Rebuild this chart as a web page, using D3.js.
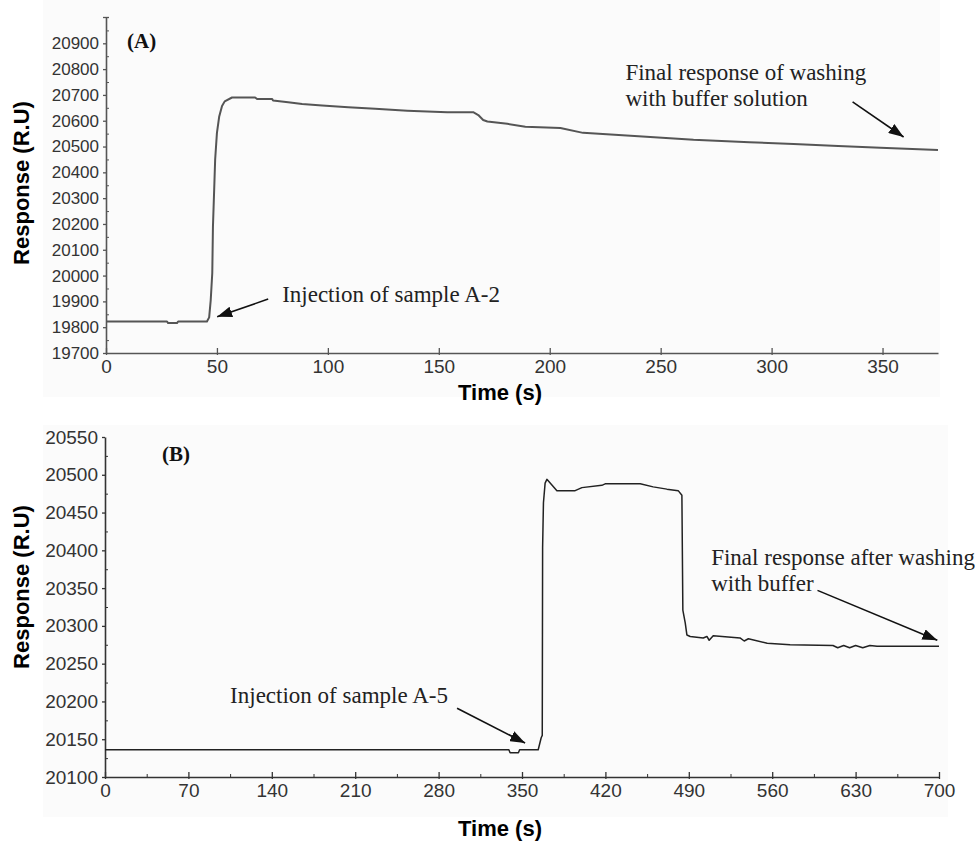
<!DOCTYPE html>
<html>
<head>
<meta charset="utf-8">
<script src="https://cdn.jsdelivr.net/npm/d3@7"></script>
<style>
  body { margin: 0; background: #fff; }
  .tick text { font-family: "Liberation Sans", Arial, sans-serif; }
  .title { font-family: "Liberation Sans", Arial, sans-serif; font-weight: bold; }
  .note { font-family: "Liberation Serif", "Times New Roman", serif; fill: #222; }
</style>
</head>
<body>
<div id="chart"></div>
<script>
// Panel A: injection of sample A-2
const timeA = [0, 27.5, 28, 32, 32.5, 45.5, 46.5, 47.2, 47.9, 48.2, 48.9, 49.2, 50.0, 51.0, 52.3, 53.5,
  56.8, 67.2, 68.1, 74.9, 75.3, 82.1, 88.4, 97.4, 109.2, 121.3, 135.8, 153.8, 165.5, 167.8, 170,
  171.9, 180.9, 189, 204.8, 215, 240, 264.8, 290, 309.9, 330, 349, 375];
const respA = [19822, 19822, 19816, 19816, 19822, 19822, 19838, 19905, 20010, 20188, 20370, 20450, 20553,
  20615, 20657, 20675, 20690, 20690, 20684, 20684, 20678, 20672, 20665, 20659, 20652, 20646, 20639,
  20633, 20633, 20622, 20603, 20597, 20588, 20577, 20572, 20553, 20540, 20526, 20517, 20510, 20502,
  20495, 20487];
const xTicksA = [0, 50, 100, 150, 200, 250, 300, 350];
const yTicksA = [19700, 19800, 19900, 20000, 20100, 20200, 20300, 20400, 20500, 20600, 20700, 20800, 20900];

// Panel B: injection of sample A-5
const timeB = [0, 339, 340, 347, 348, 363.6, 366.1, 367.0, 367.3, 368.0, 369.4, 370.9, 379.3, 394.6,
  400.3, 417.0, 419.8, 449.2, 460.1, 471.6, 481.1, 484.2, 485.0, 487.0, 488.4, 491.2, 502.1, 505.2,
  507.1, 510.5, 533, 536.5, 540, 555.8, 575, 611, 615, 620, 625, 630, 636, 642, 648, 700];
const respB = [20136, 20136, 20132, 20132, 20136, 20136, 20152, 20155, 20404, 20463, 20489, 20494, 20479,
  20479, 20483, 20486, 20488, 20488, 20484, 20481, 20479, 20473, 20321, 20304, 20288, 20286, 20284,
  20286, 20281, 20287, 20284, 20280, 20283, 20277, 20275, 20274, 20271, 20274, 20271, 20274, 20271,
  20274, 20273, 20273];
const xTicksB = [0, 70, 140, 210, 280, 350, 420, 490, 560, 630, 700];
const yTicksB = [20100, 20150, 20200, 20250, 20300, 20350, 20400, 20450, 20500, 20550];

// annotations, placed in data units: [x, y]
const notesA = [
  { lines: ["Injection of sample A-2"], at: [79.4, 19898], from: [73.1, 19909], to: [50.1, 19840] },
  { lines: ["Final response of washing", "with buffer solution"], at: [234.1, 20758], from: [336.5, 20673], to: [359.5, 20537] }
];
const notesB = [
  { lines: ["Injection of sample A-5"], at: [105, 20198], from: [295.5, 20191], to: [352.6, 20145] },
  { lines: ["Final response after washing", "with buffer"], at: [508.8, 20381], from: [598, 20347], to: [698.6, 20281] }
];

const width = 975, height = 841;

const svg = d3.select("#chart").append("svg")
  .attr("width", width)
  .attr("height", height);

svg.append("defs").append("marker")
  .attr("id", "head")
  .attr("markerUnits", "userSpaceOnUse")
  .attr("markerWidth", 15).attr("markerHeight", 11)
  .attr("refX", 15).attr("refY", 5.5)
  .attr("orient", "auto")
  .append("path")
  .attr("d", "M0,0 L15,5.5 L0,11 Z")
  .attr("fill", "#111");

function drawPanel(cfg) {
  const x = d3.scaleLinear().domain(cfg.xDomain).range(cfg.xRange);
  const y = d3.scaleLinear().domain(cfg.yDomain).range(cfg.yRange);
  const g = svg.append("g");

  // faint plot backdrop
  g.append("rect")
    .attr("x", cfg.bg[0]).attr("y", cfg.bg[1])
    .attr("width", cfg.bg[2]).attr("height", cfg.bg[3])
    .attr("fill", "#fbfbfb");

  // minor ticks
  g.append("g")
    .attr("transform", `translate(0,${cfg.yRange[0]})`)
    .call(d3.axisTop(x).tickValues(cfg.xMinor).tickSize(3).tickFormat(""))
    .call(s => s.select(".domain").remove())
    .selectAll("line").attr("stroke", cfg.axisColor);
  g.append("g")
    .attr("transform", `translate(${cfg.xRange[0]},0)`)
    .call(d3.axisRight(y).tickValues(cfg.yMinor).tickSize(3).tickFormat(""))
    .call(s => s.select(".domain").remove())
    .selectAll("line").attr("stroke", cfg.axisColor);

  // x axis
  const xa = g.append("g")
    .attr("transform", `translate(0,${cfg.yRange[0]})`)
    .call(d3.axisBottom(x).tickValues(cfg.xTicks).tickFormat(d3.format("d"))
      .tickSizeInner(2).tickSizeOuter(0).tickPadding(5));
  xa.selectAll(".tick line").attr("y1", -5).attr("stroke", cfg.axisColor).attr("stroke-width", 1.3);
  xa.select(".domain").attr("stroke", cfg.axisColor).attr("stroke-width", 1.6);
  xa.selectAll(".tick text").attr("font-size", cfg.xFont).attr("fill", "#333");

  // y axis
  const ya = g.append("g")
    .attr("transform", `translate(${cfg.xRange[0]},0)`)
    .call(d3.axisLeft(y).tickValues(cfg.yTicks).tickFormat(d3.format("d"))
      .tickSizeInner(3).tickSizeOuter(0).tickPadding(4));
  ya.selectAll(".tick line").attr("stroke", cfg.axisColor).attr("stroke-width", 1.3);
  ya.select(".domain").attr("stroke", cfg.axisColor).attr("stroke-width", 1.6);
  ya.selectAll(".tick text").attr("font-size", cfg.yFont).attr("fill", "#333");
  if (cfg.capTop) {
    g.append("line")
      .attr("x1", cfg.xRange[0] - 3).attr("x2", cfg.xRange[0] + 3)
      .attr("y1", cfg.yRange[1]).attr("y2", cfg.yRange[1])
      .attr("stroke", cfg.axisColor).attr("stroke-width", 1.3);
  }

  // response curve
  const pts = cfg.time.map((t, i) => [t, cfg.resp[i]]);
  g.append("path")
    .datum(pts)
    .attr("fill", "none")
    .attr("stroke", cfg.lineColor)
    .attr("stroke-width", cfg.lineWidth)
    .attr("stroke-linejoin", "round")
    .attr("d", d3.line().x(d => x(d[0])).y(d => y(d[1])));

  // axis titles
  g.append("text").attr("class", "title")
    .attr("x", 500).attr("y", cfg.xTitleY)
    .attr("text-anchor", "middle")
    .attr("font-size", 22)
    .text("Time (s)");
  g.append("text").attr("class", "title")
    .attr("transform", `translate(29,${cfg.yTitleY}) rotate(-90)`)
    .attr("text-anchor", "middle")
    .attr("font-size", 22)
    .text("Response (R.U)");

  // panel tag
  g.append("text")
    .attr("x", cfg.tag[1]).attr("y", cfg.tag[2])
    .attr("font-family", "'Liberation Serif', serif")
    .attr("font-weight", "bold")
    .attr("font-size", 21)
    .attr("fill", "#111")
    .text(cfg.tag[0]);

  // annotations
  cfg.notes.forEach(n => {
    const t = g.append("text").attr("class", "note")
      .attr("x", x(n.at[0])).attr("y", y(n.at[1]))
      .attr("font-size", 23);
    n.lines.forEach((l, i) => {
      t.append("tspan").attr("x", x(n.at[0])).attr("dy", i ? 26 : 0).text(l);
    });
    g.append("line")
      .attr("x1", x(n.from[0])).attr("y1", y(n.from[1]))
      .attr("x2", x(n.to[0])).attr("y2", y(n.to[1]))
      .attr("stroke", "#111").attr("stroke-width", 1.6)
      .attr("marker-end", "url(#head)");
  });
}

drawPanel({
  time: timeA, resp: respA,
  xDomain: [0, 375], xRange: [106, 938],
  yDomain: [19700, 21000], yRange: [353, 17.5],
  xTicks: xTicksA, yTicks: yTicksA,
  xMinor: [], yMinor: d3.range(19750, 21000, 100),
  xFont: 19, yFont: 17,
  axisColor: "#555", lineColor: "#555", lineWidth: 2,
  capTop: true,
  bg: [43, 0, 897, 397],
  xTitleY: 400, yTitleY: 183,
  tag: ["(A)", 127, 48],
  notes: notesA
});

drawPanel({
  time: timeB, resp: respB,
  xDomain: [0, 700], xRange: [105, 939],
  yDomain: [20100, 20550], yRange: [777, 437],
  xTicks: xTicksB, yTicks: yTicksB,
  xMinor: d3.range(35, 700, 70), yMinor: d3.range(20125, 20550, 50),
  xFont: 19, yFont: 19,
  axisColor: "#333", lineColor: "#222", lineWidth: 1.5,
  capTop: false,
  bg: [43, 425, 905, 392],
  xTitleY: 836, yTitleY: 587,
  tag: ["(B)", 162, 461],
  notes: notesB
});
</script>
</body>
</html>
